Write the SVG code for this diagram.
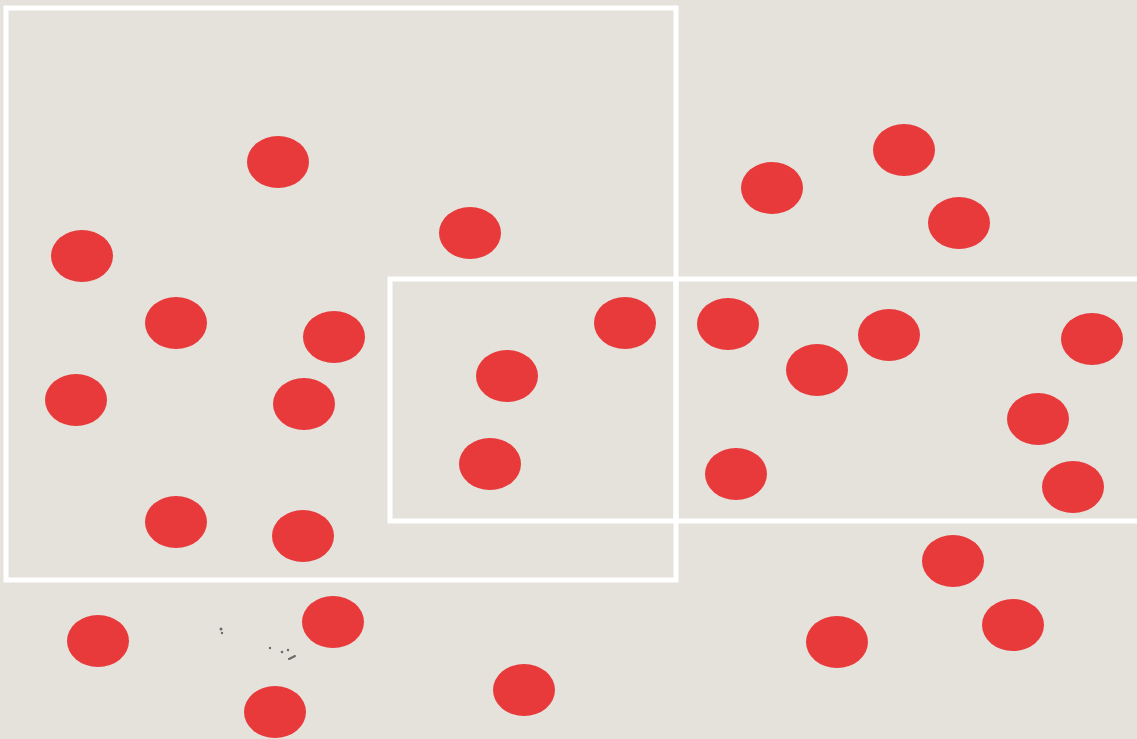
<svg xmlns="http://www.w3.org/2000/svg" width="1137" height="739" viewBox="0 0 1137 739">
<style>
.d{fill:#e8393b}
.f{fill:none;stroke:#ffffff;stroke-width:5}
.s{fill:#6a6a66}
</style>
<rect width="1137" height="739" fill="#e5e2db"/>
<g id="frames">
<rect class="f" x="6" y="8" width="670" height="572"/>
<path class="f" d="M1137 279 H390 V521 H1137"/>
<path class="f" d="M676 279 V521"/>
</g>
<g id="dots">
<ellipse class="d" cx="278" cy="162" rx="31" ry="26"/>
<ellipse class="d" cx="82" cy="256" rx="31" ry="26"/>
<ellipse class="d" cx="470" cy="233" rx="31" ry="26"/>
<ellipse class="d" cx="176" cy="323" rx="31" ry="26"/>
<ellipse class="d" cx="334" cy="337" rx="31" ry="26"/>
<ellipse class="d" cx="76" cy="400" rx="31" ry="26"/>
<ellipse class="d" cx="304" cy="404" rx="31" ry="26"/>
<ellipse class="d" cx="176" cy="522" rx="31" ry="26"/>
<ellipse class="d" cx="303" cy="536" rx="31" ry="26"/>
<ellipse class="d" cx="625" cy="323" rx="31" ry="26"/>
<ellipse class="d" cx="507" cy="376" rx="31" ry="26"/>
<ellipse class="d" cx="490" cy="464" rx="31" ry="26"/>
<ellipse class="d" cx="772" cy="188" rx="31" ry="26"/>
<ellipse class="d" cx="904" cy="150" rx="31" ry="26"/>
<ellipse class="d" cx="959" cy="223" rx="31" ry="26"/>
<ellipse class="d" cx="728" cy="324" rx="31" ry="26"/>
<ellipse class="d" cx="817" cy="370" rx="31" ry="26"/>
<ellipse class="d" cx="889" cy="335" rx="31" ry="26"/>
<ellipse class="d" cx="1092" cy="339" rx="31" ry="26"/>
<ellipse class="d" cx="1038" cy="419" rx="31" ry="26"/>
<ellipse class="d" cx="736" cy="474" rx="31" ry="26"/>
<ellipse class="d" cx="1073" cy="487" rx="31" ry="26"/>
<ellipse class="d" cx="953" cy="561" rx="31" ry="26"/>
<ellipse class="d" cx="1013" cy="625" rx="31" ry="26"/>
<ellipse class="d" cx="837" cy="642" rx="31" ry="26"/>
<ellipse class="d" cx="98" cy="641" rx="31" ry="26"/>
<ellipse class="d" cx="333" cy="622" rx="31" ry="26"/>
<ellipse class="d" cx="524" cy="690" rx="31" ry="26"/>
<ellipse class="d" cx="275" cy="712" rx="31" ry="26"/>
</g>
<g id="specks">
<circle class="s" cx="221" cy="629" r="1.5"/>
<circle class="s" cx="222" cy="633" r="1.2"/>
<circle class="s" cx="270" cy="648" r="1.2"/>
<circle class="s" cx="282" cy="652" r="1.3"/>
<circle class="s" cx="288" cy="650" r="1.2"/>
<path d="M289 659 l6 -3" stroke="#6a6a66" stroke-width="2" stroke-linecap="round"/>
</g>
</svg>
